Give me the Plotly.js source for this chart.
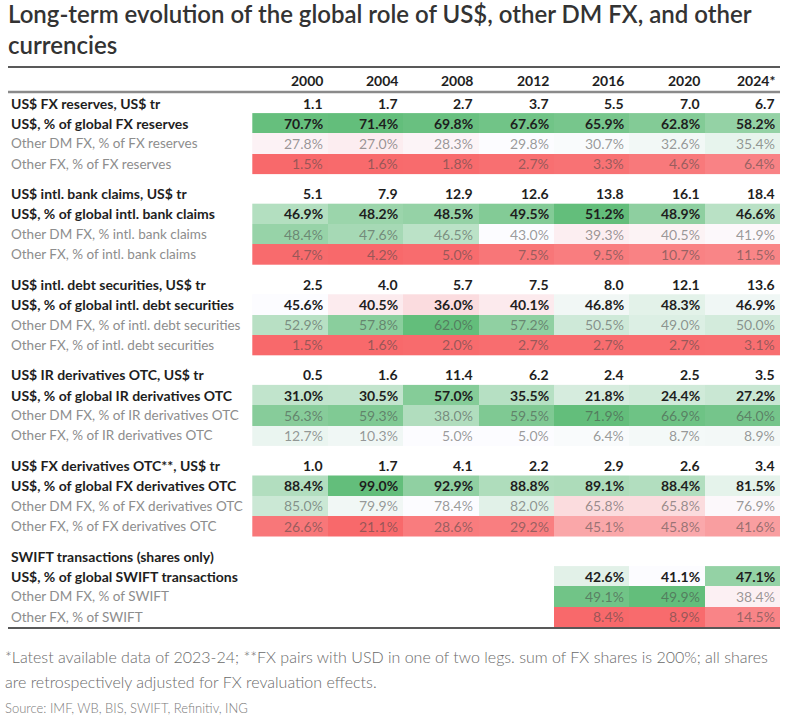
<!DOCTYPE html>
<html>
<head>
<meta charset="utf-8">
<script src="https://cdn.plot.ly/plotly-3.0.1.min.js"></script>
<style>
  html, body { margin: 0; padding: 0; background: #ffffff; }
  #chart { width: 795px; height: 720px; }
</style>
</head>
<body>
<div id="chart"></div>
<script>
// ---------------- DATA ----------------
const years = ['2000', '2004', '2008', '2012', '2016', '2020', '2024*'];

const fxResLabels = ['US$ FX reserves, US$ tr', 'US$, % of global FX reserves', 'Other DM FX, % of FX reserves', 'Other FX, % of FX reserves'];
const fxResUsdTr = [1.1, 1.7, 2.7, 3.7, 5.5, 7.0, 6.7];
const fxResUsdShare = [70.7, 71.4, 69.8, 67.6, 65.9, 62.8, 58.2];
const fxResDmShare = [27.8, 27.0, 28.3, 29.8, 30.7, 32.6, 35.4];
const fxResOtherShare = [1.5, 1.6, 1.8, 2.7, 3.3, 4.6, 6.4];

const bankLabels = ['US$ intl. bank claims, US$ tr', 'US$, % of global intl. bank claims', 'Other DM FX, % intl. bank claims', 'Other FX, % of intl. bank claims'];
const bankUsdTr = [5.1, 7.9, 12.9, 12.6, 13.8, 16.1, 18.4];
const bankUsdShare = [46.9, 48.2, 48.5, 49.5, 51.2, 48.9, 46.6];
const bankDmShare = [48.4, 47.6, 46.5, 43.0, 39.3, 40.5, 41.9];
const bankOtherShare = [4.7, 4.2, 5.0, 7.5, 9.5, 10.7, 11.5];

const debtLabels = ['US$ intl. debt securities, US$ tr', 'US$, % of global intl. debt securities', 'Other DM FX, % of intl. debt securities', 'Other FX, % of intl. debt securities'];
const debtUsdTr = [2.5, 4.0, 5.7, 7.5, 8.0, 12.1, 13.6];
const debtUsdShare = [45.6, 40.5, 36.0, 40.1, 46.8, 48.3, 46.9];
const debtDmShare = [52.9, 57.8, 62.0, 57.2, 50.5, 49.0, 50.0];
const debtOtherShare = [1.5, 1.6, 2.0, 2.7, 2.7, 2.7, 3.1];

const irdLabels = ['US$ IR derivatives OTC, US$ tr', 'US$, % of global IR derivatives OTC', 'Other DM FX, % of IR derivatives OTC', 'Other FX, % of IR derivatives OTC'];
const irdUsdTr = [0.5, 1.6, 11.4, 6.2, 2.4, 2.5, 3.5];
const irdUsdShare = [31.0, 30.5, 57.0, 35.5, 21.8, 24.4, 27.2];
const irdDmShare = [56.3, 59.3, 38.0, 59.5, 71.9, 66.9, 64.0];
const irdOtherShare = [12.7, 10.3, 5.0, 5.0, 6.4, 8.7, 8.9];

const fxdLabels = ['US$ FX derivatives OTC**, US$ tr', 'US$, % of global FX derivatives OTC', 'Other DM FX, % of FX derivatives OTC', 'Other FX, % of FX derivatives OTC'];
const fxdUsdTr = [1.0, 1.7, 4.1, 2.2, 2.9, 2.6, 3.4];
const fxdUsdShare = [88.4, 99.0, 92.9, 88.8, 89.1, 88.4, 81.5];
const fxdDmShare = [85.0, 79.9, 78.4, 82.0, 65.8, 65.8, 76.9];
const fxdOtherShare = [26.6, 21.1, 28.6, 29.2, 45.1, 45.8, 41.6];

const swiftLabels = ['SWIFT transactions (shares only)', 'US$, % of global SWIFT transactions', 'Other DM FX, % of SWIFT', 'Other FX, % of SWIFT'];
const swiftUsdTr = [null, null, null, null, null, null, null];
const swiftUsdShare = [null, null, null, null, 42.6, 41.1, 47.1];
const swiftDmShare = [null, null, null, null, 49.1, 49.9, 38.4];
const swiftOtherShare = [null, null, null, null, 8.4, 8.9, 14.5];

const titleText = 'Long-term evolution of the global role of US$, other DM FX, and other<br>currencies';
const footLine1 = '*Latest available data of 2023-24; **FX pairs with USD in one of two legs. sum of FX shares is 200%; all shares';
const footLine2 = 'are retrospectively adjusted for FX revaluation effects.';
const sourceText = 'Source: IMF, WB, BIS, SWIFT, Refinitiv, ING';

// ---------------- STRUCTURE ----------------
const blocks = [
  { labels: fxResLabels, level: fxResUsdTr, shares: [fxResUsdShare, fxResDmShare, fxResOtherShare], scale: 'three' },
  { labels: bankLabels, level: bankUsdTr, shares: [bankUsdShare, bankDmShare, bankOtherShare], scale: 'three' },
  { labels: debtLabels, level: debtUsdTr, shares: [debtUsdShare, debtDmShare, debtOtherShare], scale: 'three' },
  { labels: irdLabels, level: irdUsdTr, shares: [irdUsdShare, irdDmShare, irdOtherShare], scale: 'two' },
  { labels: fxdLabels, level: fxdUsdTr, shares: [fxdUsdShare, fxdDmShare, fxdOtherShare], scale: 'three' },
  { labels: swiftLabels, level: swiftUsdTr, shares: [swiftUsdShare, swiftDmShare, swiftOtherShare], scale: 'three' }
];

// layout geometry (pixels)
const W = 795, H = 720;
const plotLeft = 8, plotRight = 780, plotTop = 67, plotBottom = 628;
const rowPx = 20.2, blockPx = 90.6, firstRowPx = 103, headerPx = 80;
const blockStep = blockPx / rowPx;
const yTop = -(firstRowPx - plotTop) / rowPx;
const yBottom = yTop + (plotBottom - plotTop) / rowPx;
const colCenter0 = 290, colPx = (plotRight - plotLeft) / 10.24;
const xLeft = -(colCenter0 - plotLeft) / colPx;
const xRight = xLeft + (plotRight - plotLeft) / colPx;
const rowPos = (b, r) => b * blockStep + r;
const headerY = -(firstRowPx - headerPx) / rowPx;
const py = p => (plotBottom - p) / (plotBottom - plotTop);
const px = p => (p - plotLeft) / (plotRight - plotLeft);
const valueX = i => i + 0.5 - 3 / colPx;   // right edge of a cell, minus padding

// Excel-like colour scale: min -> red, 50th percentile -> white, max -> green
function percentile50(arr) {
  const s = arr.slice().sort((a, b) => a - b);
  const k = (s.length - 1) * 0.5;
  const lo = Math.floor(k), hi = Math.ceil(k);
  return s[lo] + (s[hi] - s[lo]) * (k - lo);
}
function blockZ(block) {
  const all = [].concat(...block.shares).filter(v => v !== null);
  const mn = Math.min(...all), mx = Math.max(...all);
  if (block.scale === 'two') {
    return block.shares.map(row => row.map(v => v === null ? null : (v - mn) / (mx - mn)));
  }
  const md = percentile50(all);
  return block.shares.map(row => row.map(v => {
    if (v === null) return null;
    return v < md ? (v - md) / (md - mn) : (v - md) / (mx - md);
  }));
}

const colIdx = years.map((_, i) => i);
const traces = [];
const annotations = [];
const FONT = 'Lato, "Open Sans", sans-serif';
const darkText = '#1e1e1e';
const grayText = 'rgba(70,70,70,0.55)';
const TS = 14;

blocks.forEach((block, b) => {
  traces.push({
    type: 'heatmap',
    x: colIdx,
    y: [1, 2, 3].map(r => rowPos(b, r)),
    z: blockZ(block),
    zmin: -1, zmax: 1,
    colorscale: [[0, '#F8696B'], [0.5, '#FCFCFF'], [1, '#63BE7B']],
    showscale: false,
    hoverinfo: 'skip',
    xgap: 0, ygap: 0
  });
  // row labels
  block.labels.forEach((lab, r) => {
    const bold = r < 2;
    annotations.push({
      xref: 'paper', yref: 'y', x: 0, y: rowPos(b, r), xanchor: 'left', yanchor: 'middle',
      xshift: 1, text: bold ? '<b>' + lab + '</b>' : lab, showarrow: false,
      font: { family: FONT, size: bold ? TS : 13.5, color: bold ? darkText : '#8d8d8d' }
    });
  });
  // level row values
  block.level.forEach((v, i) => {
    if (v === null) return;
    annotations.push({
      xref: 'x', yref: 'y', x: valueX(i), y: rowPos(b, 0), xanchor: 'right', yanchor: 'middle',
      text: '<b>' + v.toFixed(1) + '</b>', showarrow: false,
      font: { family: FONT, size: TS, color: darkText }
    });
  });
  // share row values
  block.shares.forEach((row, k) => {
    row.forEach((v, i) => {
      if (v === null) return;
      const bold = k === 0;
      annotations.push({
        xref: 'x', yref: 'y', x: valueX(i), y: rowPos(b, k + 1), xanchor: 'right', yanchor: 'middle',
        text: bold ? '<b>' + v.toFixed(1) + '%</b>' : v.toFixed(1) + '%', showarrow: false,
        font: { family: FONT, size: TS, color: bold ? darkText : grayText }
      });
    });
  });
});

// header years
years.forEach((yr, i) => {
  annotations.push({
    xref: 'x', yref: 'y', x: valueX(i), y: headerY, xanchor: 'right', yanchor: 'middle',
    text: '<b>' + yr + '</b>', showarrow: false,
    font: { family: FONT, size: TS, color: darkText }
  });
});

// footnotes
annotations.push({
  xref: 'paper', yref: 'paper', x: px(3), y: py(656), xanchor: 'left', yanchor: 'middle',
  text: footLine1, showarrow: false, font: { family: FONT, size: 16, color: '#6a6a6a', weight: 300 }
});
annotations.push({
  xref: 'paper', yref: 'paper', x: px(3), y: py(681), xanchor: 'left', yanchor: 'middle',
  text: footLine2, showarrow: false, font: { family: FONT, size: 16, color: '#6a6a6a', weight: 300 }
});
annotations.push({
  xref: 'paper', yref: 'paper', x: px(3), y: py(708), xanchor: 'left', yanchor: 'middle',
  text: sourceText, showarrow: false, font: { family: FONT, size: 13, color: '#7a7a7a', weight: 300 }
});

const shapes = [
  { type: 'line', xref: 'paper', yref: 'paper', x0: 0, x1: 1, y0: 1, y1: 1, line: { color: '#222222', width: 1.5 } },
  { type: 'line', xref: 'paper', yref: 'y', x0: 0, x1: 1, y0: -0.545, y1: -0.545, line: { color: '#8a8a8a', width: 2.5 } },
  { type: 'line', xref: 'paper', yref: 'paper', x0: 0, x1: 1, y0: 0, y1: 0, line: { color: '#222222', width: 1.5 } }
];

const layout = {
  width: W, height: H,
  margin: { l: plotLeft, r: W - plotRight, t: plotTop, b: H - plotBottom, pad: 0 },
  paper_bgcolor: '#ffffff', plot_bgcolor: '#ffffff',
  title: {
    text: titleText, xref: 'container', yref: 'container', x: 8 / W, xanchor: 'left',
    y: 1 - 23 / H, yanchor: 'middle',
    font: { family: FONT, size: 24, color: '#333333', weight: 600 }
  },
  xaxis: { range: [xLeft, xRight], visible: false, fixedrange: true },
  yaxis: { range: [yBottom, yTop], visible: false, fixedrange: true },
  showlegend: false,
  annotations: annotations,
  shapes: shapes
};

Plotly.newPlot('chart', traces, layout, { displayModeBar: false, staticPlot: true });
</script>
</body>
</html>
